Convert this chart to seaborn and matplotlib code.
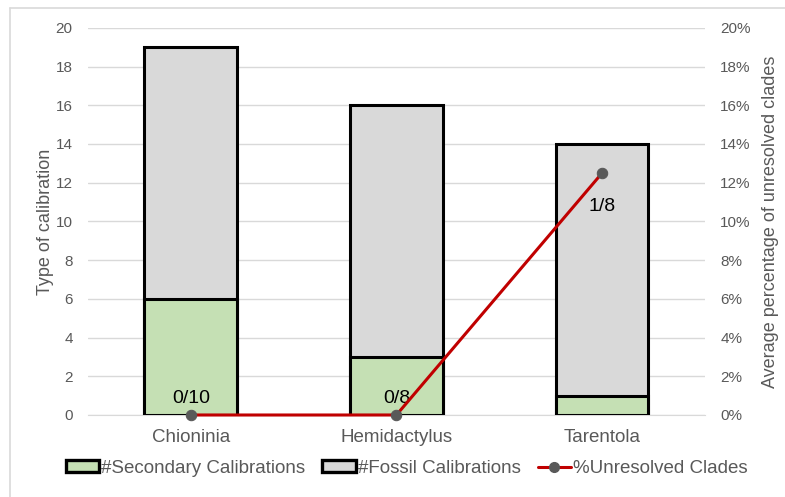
import matplotlib
matplotlib.use("Agg")
import matplotlib.pyplot as plt
import seaborn as sns
import pandas as pd
from matplotlib.patches import Patch
from matplotlib.lines import Line2D
from matplotlib.ticker import PercentFormatter

# data
species = ["Chioninia", "Hemidactylus", "Tarentola"]
secondary = [6, 3, 1]
fossil = [13, 13, 13]
unresolved_pct = [0.0, 0.0, 12.5]
ratio_labels = ["0/10", "0/8", "1/8"]

sns.set_style("white")
plt.rcParams["font.family"] = ["Liberation Sans", "DejaVu Sans"]

grey_txt = "#595959"
green = "#C5E0B4"
light = "#D9D9D9"
red = "#C00000"

df = pd.DataFrame({"species": species, "secondary": secondary, "fossil": fossil})
df["total"] = df["secondary"] + df["fossil"]

fig = plt.figure(figsize=(7.85, 4.97), dpi=100)
ax = fig.add_axes([0.112, 0.165, 0.786, 0.779])

# stacked bars: draw total first, secondary over it
sns.barplot(data=df, x="species", y="total", color=light, edgecolor="black",
            linewidth=2.2, width=0.45, saturation=1, ax=ax, zorder=2)
sns.barplot(data=df, x="species", y="secondary", color=green, edgecolor="black",
            linewidth=2.2, width=0.45, saturation=1, ax=ax, zorder=3)

ax.set_ylim(0, 20)
ax.set_yticks(range(0, 21, 2))
ax.yaxis.grid(True, color="#D9D9D9", linewidth=1)
ax.set_axisbelow(True)
for s in ax.spines.values():
    s.set_visible(False)
ax.spines["bottom"].set_visible(True)
ax.spines["bottom"].set_color("#D9D9D9")
ax.set_xlabel("")
ax.set_ylabel("Type of calibration", color=grey_txt, fontsize=13, labelpad=1)
ax.tick_params(axis="y", colors=grey_txt, labelsize=11, length=0, pad=11)
ax.tick_params(axis="x", colors=grey_txt, labelsize=13.5, length=0, pad=10)

ax2 = ax.twinx()
sns.lineplot(x=species, y=unresolved_pct, ax=ax2, color=red, linewidth=2.2,
             marker="o", markersize=7.5, markerfacecolor=grey_txt,
             markeredgecolor=grey_txt, zorder=5, clip_on=False)
ax2.set_ylim(0, 20)
ax2.set_xlim(-0.5, 2.5)
ax2.set_yticks(range(0, 21, 2))
ax2.yaxis.set_major_formatter(PercentFormatter(decimals=0))
for s in ax2.spines.values():
    s.set_visible(False)
ax2.tick_params(axis="y", colors=grey_txt, labelsize=11, length=0, pad=11)
ax2.set_ylabel("Average percentage of unresolved clades", color=grey_txt,
               fontsize=13, labelpad=8)

for i, (lab, v) in enumerate(zip(ratio_labels, unresolved_pct)):
    off = 12 if v == 0 else -24
    ax2.annotate(lab, (i, v), xytext=(0, off), textcoords="offset points",
                 ha="center", va="center", fontsize=14, color="black")

handles = [
    Patch(facecolor=green, edgecolor="black", linewidth=2.4),
    Patch(facecolor=light, edgecolor="black", linewidth=2.4),
    Line2D([0], [0], color=red, linewidth=2.2, marker="o", markersize=7,
           markerfacecolor=grey_txt, markeredgecolor=grey_txt),
]
fig.legend(handles, ["#Secondary Calibrations", "#Fossil Calibrations", "%Unresolved Clades"],
           loc="center", bbox_to_anchor=(0.518, 0.058), ncol=3, frameon=False,
           fontsize=13.5, labelcolor=grey_txt, handlelength=1.8, handleheight=0.55,
           handletextpad=0.1, columnspacing=0.9)

# light frame lines on top and left, as in the exported office chart
fig.add_artist(Line2D([10 / 785, 1], [1 - 8 / 497, 1 - 8 / 497], transform=fig.transFigure,
                      color="#D9D9D9", linewidth=1.2))
fig.add_artist(Line2D([10 / 785, 10 / 785], [0, 1 - 8 / 497], transform=fig.transFigure,
                      color="#D9D9D9", linewidth=1.2))

fig.savefig("out.png", dpi=100)
